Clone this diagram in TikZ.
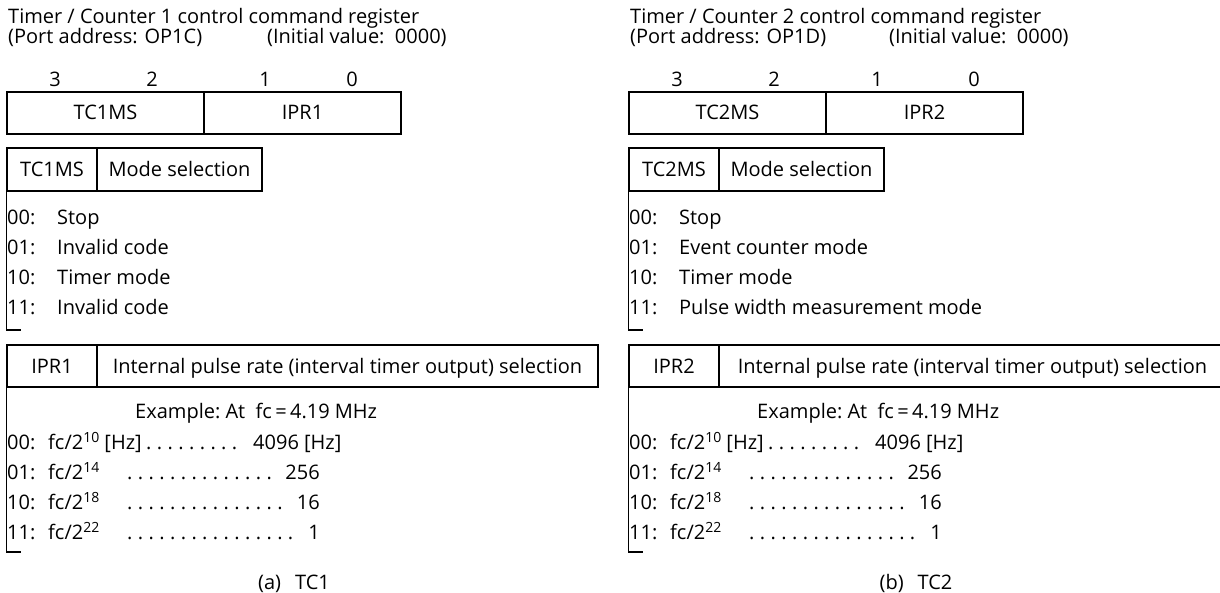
\documentclass[tikz,border=0pt]{standalone}
\usepackage{fontspec}
\setmainfont{Open Sans}
\newcommand\bodyfs{\fontsize{20}{24}\selectfont}
\newcommand\supnum[1]{\raisebox{6.8pt}{\fontsize{14}{14}\selectfont #1}}
\newcommand\dotrun[1]{\foreach \k in {1,...,#1}{.\hspace{5.4pt}}}
\tikzset{
  cell/.style={draw, line width=1.5pt, inner sep=0pt, font=\bodyfs,
               text height=14pt, text depth=0pt},
  txt/.style={inner sep=0pt, anchor=base west, font=\bodyfs},
  ctxt/.style={inner sep=0pt, anchor=base, font=\bodyfs},
  etxt/.style={inner sep=0pt, anchor=base east, font=\bodyfs},
  bracket/.style={line width=1.5pt},
}
\begin{document}
\begin{tikzpicture}[x=1pt,y=-1pt]
\useasboundingbox (0,0) rectangle (1220,593);
% ================= panel (a) =================
\node[txt] (at1) at (8,24) {Timer / Counter 1 control command register};
\node[txt] (at2) at (8,43.5) {(Port address: OP1C)};
\node[txt] (at3) at (267,43.5) {(Initial value:\ \ 0000)};
\node[ctxt] (ab3) at (55,87) {3};
\node[ctxt] (ab2) at (152,87) {2};
\node[ctxt] (ab1) at (265,87) {1};
\node[ctxt] (ab0) at (352,87) {0};
\node[cell, minimum width=197pt, minimum height=42pt] (areg1) at (105.5,113) {TC1MS};
\node[cell, minimum width=197pt, minimum height=42pt] (areg2) at (302.5,113) {IPR1};
\node[cell, minimum width=90pt, minimum height=43pt] (amh1) at (52,169.5) {TC1MS};
\node[cell, minimum width=165pt, minimum height=43pt] (amh2) at (179.5,169.5) {Mode selection};
\coordinate (amfoot) at (21,330);
\draw[bracket] (amh1.south west) |- (amfoot);
\node[txt] (am0c) at (7,225) {00:};  \node[txt] (am0t) at (57,225) {Stop};
\node[txt] (am1c) at (7,255) {01:};  \node[txt] (am1t) at (57,255) {Invalid code};
\node[txt] (am2c) at (7,285) {10:};  \node[txt] (am2t) at (57,285) {Timer mode};
\node[txt] (am3c) at (7,315) {11:};  \node[txt] (am3t) at (57,315) {Invalid code};
\node[cell, minimum width=90pt, minimum height=42pt] (aih1) at (52,366) {IPR1};
\node[cell, minimum width=501pt, minimum height=42pt] (aih2) at (347.5,366) {Internal pulse rate (interval timer output) selection};
\coordinate (aifoot) at (21,552);
\draw[bracket] (aih1.south west) |- (aifoot);
\node[txt] (aex) at (135,418) {Example:\ At\ \ fc\,=\,4.19 MHz};
\node[txt] (ar0c) at (7,449) {00:};
\node[txt] (ar0f) at (48,449) {fc/2\supnum{10} [Hz]};
\node[txt] (ar0d) at (146,449) {\dotrun{9}};
\node[txt] (ar0v) at (253,449) {4096 [Hz]};
\node[txt] (ar1c) at (7,479) {01:};
\node[txt] (ar1f) at (48,479) {fc/2\supnum{14}};
\node[txt] (ar1d) at (127,479) {\dotrun{14}};
\node[etxt] (ar1v) at (320,479) {256};
\node[txt] (ar2c) at (7,509) {10:};
\node[txt] (ar2f) at (48,509) {fc/2\supnum{18}};
\node[txt] (ar2d) at (127,509) {\dotrun{15}};
\node[etxt] (ar2v) at (320,509) {16};
\node[txt] (ar3c) at (7,539) {11:};
\node[txt] (ar3f) at (48,539) {fc/2\supnum{22}};
\node[txt] (ar3d) at (127,539) {\dotrun{16}};
\node[etxt] (ar3v) at (320,539) {1};
\node[ctxt] (acap) at (294,589) {(a)\hspace{14pt}TC1};
% ================= panel (b) =================
\begin{scope}[xshift=622pt]
\node[txt] (bt1) at (8,24) {Timer / Counter 2 control command register};
\node[txt] (bt2) at (8,43.5) {(Port address: OP1D)};
\node[txt] (bt3) at (267,43.5) {(Initial value:\ \ 0000)};
\node[ctxt] (bb3) at (55,87) {3};
\node[ctxt] (bb2) at (152,87) {2};
\node[ctxt] (bb1) at (255,87) {1};
\node[ctxt] (bb0) at (352,87) {0};
\node[cell, minimum width=197pt, minimum height=42pt] (breg1) at (105.5,113) {TC2MS};
\node[cell, minimum width=197pt, minimum height=42pt] (breg2) at (302.5,113) {IPR2};
\node[cell, minimum width=90pt, minimum height=43pt] (bmh1) at (52,169.5) {TC2MS};
\node[cell, minimum width=165pt, minimum height=43pt] (bmh2) at (179.5,169.5) {Mode selection};
\coordinate (bmfoot) at (21,330);
\draw[bracket] (bmh1.south west) |- (bmfoot);
\node[txt] (bm0c) at (7,225) {00:};  \node[txt] (bm0t) at (57,225) {Stop};
\node[txt] (bm1c) at (7,255) {01:};  \node[txt] (bm1t) at (57,255) {Event counter mode};
\node[txt] (bm2c) at (7,285) {10:};  \node[txt] (bm2t) at (57,285) {Timer mode};
\node[txt] (bm3c) at (7,315) {11:};  \node[txt] (bm3t) at (57,315) {Pulse width measurement mode};
\node[cell, minimum width=90pt, minimum height=42pt] (bih1) at (52,366) {IPR2};
\node[cell, minimum width=507pt, minimum height=42pt] (bih2) at (350.5,366) {Internal pulse rate (interval timer output) selection};
\coordinate (bifoot) at (21,552);
\draw[bracket] (bih1.south west) |- (bifoot);
\node[txt] (bex) at (135,418) {Example:\ At\ \ fc\,=\,4.19 MHz};
\node[txt] (br0c) at (7,449) {00:};
\node[txt] (br0f) at (48,449) {fc/2\supnum{10} [Hz]};
\node[txt] (br0d) at (146,449) {\dotrun{9}};
\node[txt] (br0v) at (253,449) {4096 [Hz]};
\node[txt] (br1c) at (7,479) {01:};
\node[txt] (br1f) at (48,479) {fc/2\supnum{14}};
\node[txt] (br1d) at (127,479) {\dotrun{14}};
\node[etxt] (br1v) at (320,479) {256};
\node[txt] (br2c) at (7,509) {10:};
\node[txt] (br2f) at (48,509) {fc/2\supnum{18}};
\node[txt] (br2d) at (127,509) {\dotrun{15}};
\node[etxt] (br2v) at (320,509) {16};
\node[txt] (br3c) at (7,539) {11:};
\node[txt] (br3f) at (48,539) {fc/2\supnum{22}};
\node[txt] (br3d) at (127,539) {\dotrun{16}};
\node[etxt] (br3v) at (320,539) {1};
\node[ctxt] (bcap) at (294,589) {(b)\hspace{14pt}TC2};
\end{scope}
\end{tikzpicture}
\end{document}
